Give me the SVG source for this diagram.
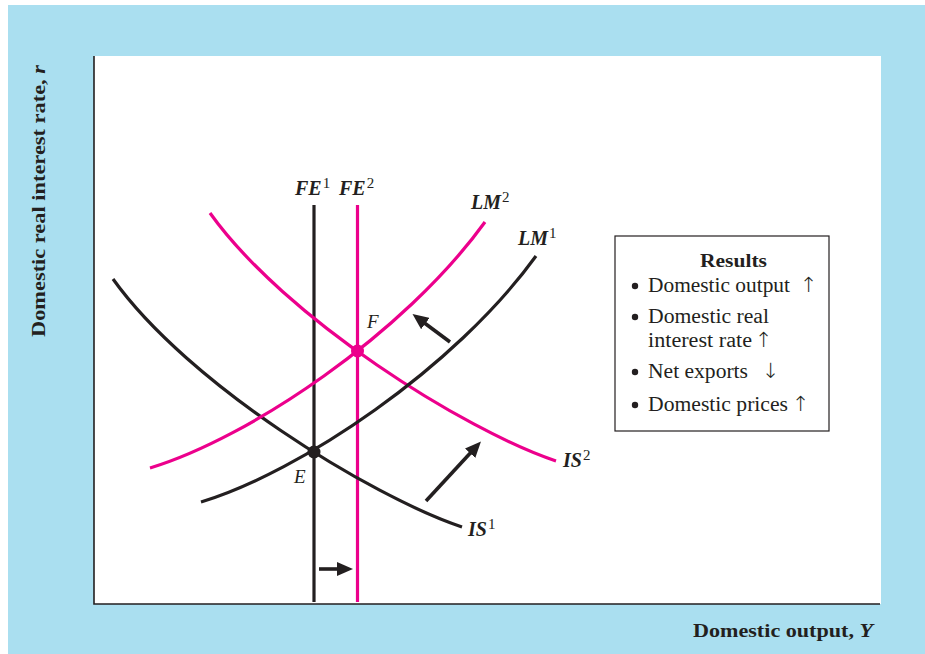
<svg xmlns="http://www.w3.org/2000/svg" width="925" height="654" viewBox="0 0 925 654">
  <style>
    .bg { fill: #aadff0; }
    .plot { fill: #ffffff; }
    .axis { stroke: #231f20; stroke-width: 1.6; fill: none; }
    .blk { stroke: #231f20; stroke-width: 3.2; fill: none; stroke-linecap: butt; }
    .mag { stroke: #ec008c; stroke-width: 3.2; fill: none; stroke-linecap: butt; }
    .shift { stroke: #231f20; stroke-width: 3.6; fill: none; }
    .lbl { font-family: "Liberation Serif", serif; font-style: italic; font-weight: bold; font-size: 20px; fill: #231f20; }
    .sup { font-style: normal; font-weight: normal; font-size: 15px; }
    .pt { font-family: "Liberation Serif", serif; font-style: italic; font-size: 19px; fill: #231f20; }
    .box { fill: #ffffff; stroke: #231f20; stroke-width: 1.2; }
    .res { font-family: "Liberation Serif", serif; font-size: 20px; fill: #231f20; }
    .arr { font-family: "DejaVu Sans", sans-serif; font-size: 21px; font-weight: 200; fill: #231f20; }
    .resh { font-family: "Liberation Serif", serif; font-size: 19px; font-weight: bold; fill: #231f20; }
    .ax { font-family: "Liberation Serif", serif; font-size: 19px; font-weight: bold; fill: #231f20; }
  </style>
  <defs>
    <marker id="ah" viewBox="0 -7 16 14" refX="1" refY="0" markerWidth="16" markerHeight="14" markerUnits="userSpaceOnUse" orient="auto">
      <path d="M0,-7 L16,0 L0,7 z" fill="#231f20"/>
    </marker>
  </defs>

  <g id="background">
    <rect class="bg" x="8" y="5" width="917" height="649"/>
    <rect class="plot" x="94" y="56" width="787" height="548"/>
  </g>

  <g id="axes">
    <path class="axis" d="M94,56 L94,604 L880,604"/>
    <text class="ax" transform="translate(45,201) rotate(-90)" text-anchor="middle" textLength="272" lengthAdjust="spacingAndGlyphs">Domestic real interest rate, <tspan font-style="italic">r</tspan></text>
    <text class="ax" x="693" y="637" textLength="180" lengthAdjust="spacingAndGlyphs">Domestic output, <tspan font-style="italic">Y</tspan></text>
  </g>

  <g id="FE1">
    <line class="blk" x1="314" y1="205" x2="314" y2="602"/>
    <text class="lbl" x="295" y="195">FE<tspan class="sup" dx="1" dy="-7">1</tspan></text>
  </g>
  <g id="FE2">
    <line class="mag" x1="357.5" y1="205" x2="357.5" y2="602"/>
    <text class="lbl" x="339" y="195">FE<tspan class="sup" dx="1" dy="-7">2</tspan></text>
  </g>

  <g id="IS1">
    <path class="blk" d="M113,279 C188,384 370,496 462,527"/>
    <text class="lbl" x="468" y="536">IS<tspan class="sup" dx="1" dy="-7">1</tspan></text>
  </g>
  <g id="IS2">
    <path class="mag" d="M210,213 C285,318 464,430 556,461"/>
    <text class="lbl" x="563" y="467">IS<tspan class="sup" dx="1" dy="-7">2</tspan></text>
  </g>

  <g id="LM1">
    <path class="blk" d="M201,502 C300,472 455,368 536,256"/>
    <text class="lbl" x="518" y="245">LM<tspan class="sup" dx="1" dy="-7">1</tspan></text>
  </g>
  <g id="LM2">
    <path class="mag" d="M150,468 C249,438 404,334 485,222"/>
    <text class="lbl" x="471" y="209">LM<tspan class="sup" dx="1" dy="-7">2</tspan></text>
  </g>

  <g id="E">
    <circle cx="314" cy="452" r="6.5" fill="#231f20"/>
    <text class="pt" x="294" y="483">E</text>
  </g>
  <g id="F">
    <circle cx="357.5" cy="351" r="6.5" fill="#ec008c"/>
    <text class="pt" x="367" y="328">F</text>
  </g>

  <g id="connectors">
    <line class="shift" x1="319" y1="569" x2="338" y2="569" marker-end="url(#ah)"/>
    <line class="shift" x1="450" y1="342" x2="424.5" y2="323" marker-end="url(#ah)"/>
    <line class="shift" x1="426" y1="501" x2="470.8" y2="452.5" marker-end="url(#ah)"/>
  </g>

  <g id="results">
    <rect class="box" x="615" y="236" width="214" height="195"/>
    <text class="resh" x="733.5" y="267" text-anchor="middle" textLength="67" lengthAdjust="spacingAndGlyphs">Results</text>
    <circle cx="635" cy="286" r="3.2" fill="#231f20"/>
    <text class="res" x="648" y="292" textLength="142" lengthAdjust="spacingAndGlyphs">Domestic output</text>
    <text class="arr" x="800" y="292">↑</text>
    <circle cx="635" cy="317" r="3.2" fill="#231f20"/>
    <text class="res" x="648" y="323" textLength="121" lengthAdjust="spacingAndGlyphs">Domestic real</text>
    <text class="res" x="648" y="347" textLength="104" lengthAdjust="spacingAndGlyphs">interest rate</text>
    <text class="arr" x="755" y="347">↑</text>
    <circle cx="635" cy="372" r="3.2" fill="#231f20"/>
    <text class="res" x="648" y="378" textLength="100" lengthAdjust="spacingAndGlyphs">Net exports</text>
    <text class="arr" x="762" y="378">↓</text>
    <circle cx="635" cy="405" r="3.2" fill="#231f20"/>
    <text class="res" x="648" y="411" textLength="140" lengthAdjust="spacingAndGlyphs">Domestic prices</text>
    <text class="arr" x="792" y="411">↑</text>
  </g>
</svg>
